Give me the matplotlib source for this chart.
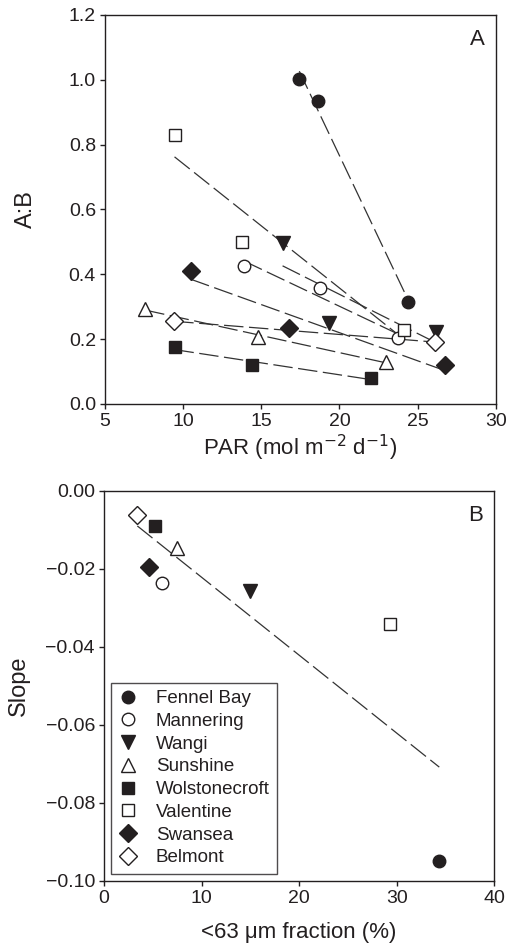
import numpy as np
import matplotlib
matplotlib.use("Agg")
import matplotlib.pyplot as plt

plt.rcParams["font.family"] = ["Liberation Sans", "DejaVu Sans"]
plt.rcParams["font.size"] = 14
plt.rcParams["lines.scale_dashes"] = False

_INK = "#231f20"
plt.rcParams["text.color"] = _INK
plt.rcParams["axes.labelcolor"] = _INK
plt.rcParams["xtick.color"] = _INK
plt.rcParams["ytick.color"] = _INK

# ---------------------------------------------------------------------------
# Panel A data: A:B ratio vs PAR, per site
# ---------------------------------------------------------------------------
sites = ["Fennel Bay", "Mannering", "Wangi", "Sunshine",
         "Wolstonecroft", "Valentine", "Swansea", "Belmont"]
markers = ["o", "o", "v", "^", "s", "s", "D", "D"]
filled = [True, False, True, False, True, False, True, False]
msizes = [9, 9, 10.5, 10.5, 8.5, 8.5, 9.5, 9.5]

par_fennel = [17.43, 18.62, 24.39]
ab_fennel = [1.003, 0.934, 0.316]
par_mannering = [13.91, 18.73, 23.73]
ab_mannering = [0.426, 0.359, 0.202]
par_wangi = [16.36, 19.36, 26.16]
ab_wangi = [0.498, 0.250, 0.221]
par_sunshine = [7.58, 14.78, 22.97]
ab_sunshine = [0.293, 0.207, 0.130]
par_wolstonecroft = [9.45, 14.42, 22.01]
ab_wolstonecroft = [0.175, 0.119, 0.080]
par_valentine = [9.45, 13.76, 24.14]
ab_valentine = [0.830, 0.501, 0.227]
par_swansea = [10.48, 16.74, 26.76]
ab_swansea = [0.411, 0.234, 0.119]
par_belmont = [9.43, 26.10]
ab_belmont = [0.255, 0.191]

par_all = [par_fennel, par_mannering, par_wangi, par_sunshine,
           par_wolstonecroft, par_valentine, par_swansea, par_belmont]
ab_all = [ab_fennel, ab_mannering, ab_wangi, ab_sunshine,
          ab_wolstonecroft, ab_valentine, ab_swansea, ab_belmont]

# ---------------------------------------------------------------------------
# Panel B data: slope vs <63 um fraction
# ---------------------------------------------------------------------------
fines = [34.36, 5.98, 14.96, 7.51, 5.26, 29.30, 4.58, 3.42]
slopes = [-0.0949, -0.0237, -0.0256, -0.0146, -0.0091, -0.0341, -0.0196, -0.0061]

_DASH = (0, (14, 4))


def _style(ax):
    ax.tick_params(direction="out", length=3.5, width=1, top=False, right=False,
                   labelsize=14, pad=3)
    for sp in ax.spines.values():
        sp.set_linewidth(1)
        sp.set_color(_INK)


def _fit_line(ax, x, y):
    x = np.asarray(x, float)
    y = np.asarray(y, float)
    k, b = np.polyfit(x, y, 1)
    xs = np.array([x.min(), x.max()])
    ax.plot(xs, k * xs + b, color="#333333", lw=0.9, linestyle=_DASH, zorder=1)


def _markers(ax, xs, ys, i, **kw):
    ax.plot(xs, ys, linestyle="none", marker=markers[i], ms=msizes[i],
            mfc=_INK if filled[i] else "white", mec=_INK, mew=1, zorder=3, **kw)


fig = plt.figure(figsize=(5.07, 9.49), dpi=100)
ax_a = fig.add_axes([0.207, 0.5743, 0.771, 0.410])
ax_b = fig.add_axes([0.205, 0.0717, 0.770, 0.411])

# Panel A
for i in range(len(sites)):
    _fit_line(ax_a, par_all[i], ab_all[i])
for i in range(len(sites)):
    _markers(ax_a, par_all[i], ab_all[i], i)
ax_a.set_xlim(5, 30)
ax_a.set_ylim(0, 1.2)
ax_a.set_xticks([5, 10, 15, 20, 25, 30])
yt_a = np.arange(0, 1.21, 0.2)
ax_a.set_yticks(yt_a)
ax_a.set_yticklabels([f"{v:.1f}" for v in yt_a])
ax_a.set_xlabel("PAR (mol m$^{-2}$ d$^{-1}$)", fontsize=16)
ax_a.set_ylabel("A:B", fontsize=17)
ax_a.xaxis.set_label_coords(0.5, -0.075)
ax_a.yaxis.set_label_coords(-0.175, 0.5)
ax_a.text(0.972, 0.965, "A", transform=ax_a.transAxes, ha="right", va="top",
          fontsize=16)
_style(ax_a)

# Panel B
_fit_line(ax_b, fines, slopes)
for i, name in enumerate(sites):
    _markers(ax_b, [fines[i]], [slopes[i]], i, label=name)
ax_b.set_xlim(0, 40)
ax_b.set_ylim(-0.10, 0.0)
ax_b.set_xticks([0, 10, 20, 30, 40])
yt_b = np.arange(-0.10, 0.001, 0.02)
ax_b.set_yticks(yt_b)
ax_b.set_yticklabels([f"{v:.2f}".replace("-", "\u2212").replace("\u22120.00", "0.00")
                      for v in yt_b])
ax_b.set_xlabel("<63 \u03bcm fraction (%)", fontsize=16)
ax_b.set_ylabel("Slope", fontsize=17)
ax_b.xaxis.set_label_coords(0.5, -0.105)
ax_b.yaxis.set_label_coords(-0.19, 0.5)
ax_b.text(0.972, 0.965, "B", transform=ax_b.transAxes, ha="right", va="top",
          fontsize=16)
leg = ax_b.legend(loc="lower left", bbox_to_anchor=(0.018, 0.018), fontsize=13.5,
                  frameon=True, fancybox=False, handletextpad=1.0,
                  labelspacing=0.3, borderpad=0.4, handlelength=1.0,
                  borderaxespad=0)
leg.get_frame().set_edgecolor(_INK)
leg.get_frame().set_linewidth(1)
_style(ax_b)

fig.savefig("out.png", dpi=100)
